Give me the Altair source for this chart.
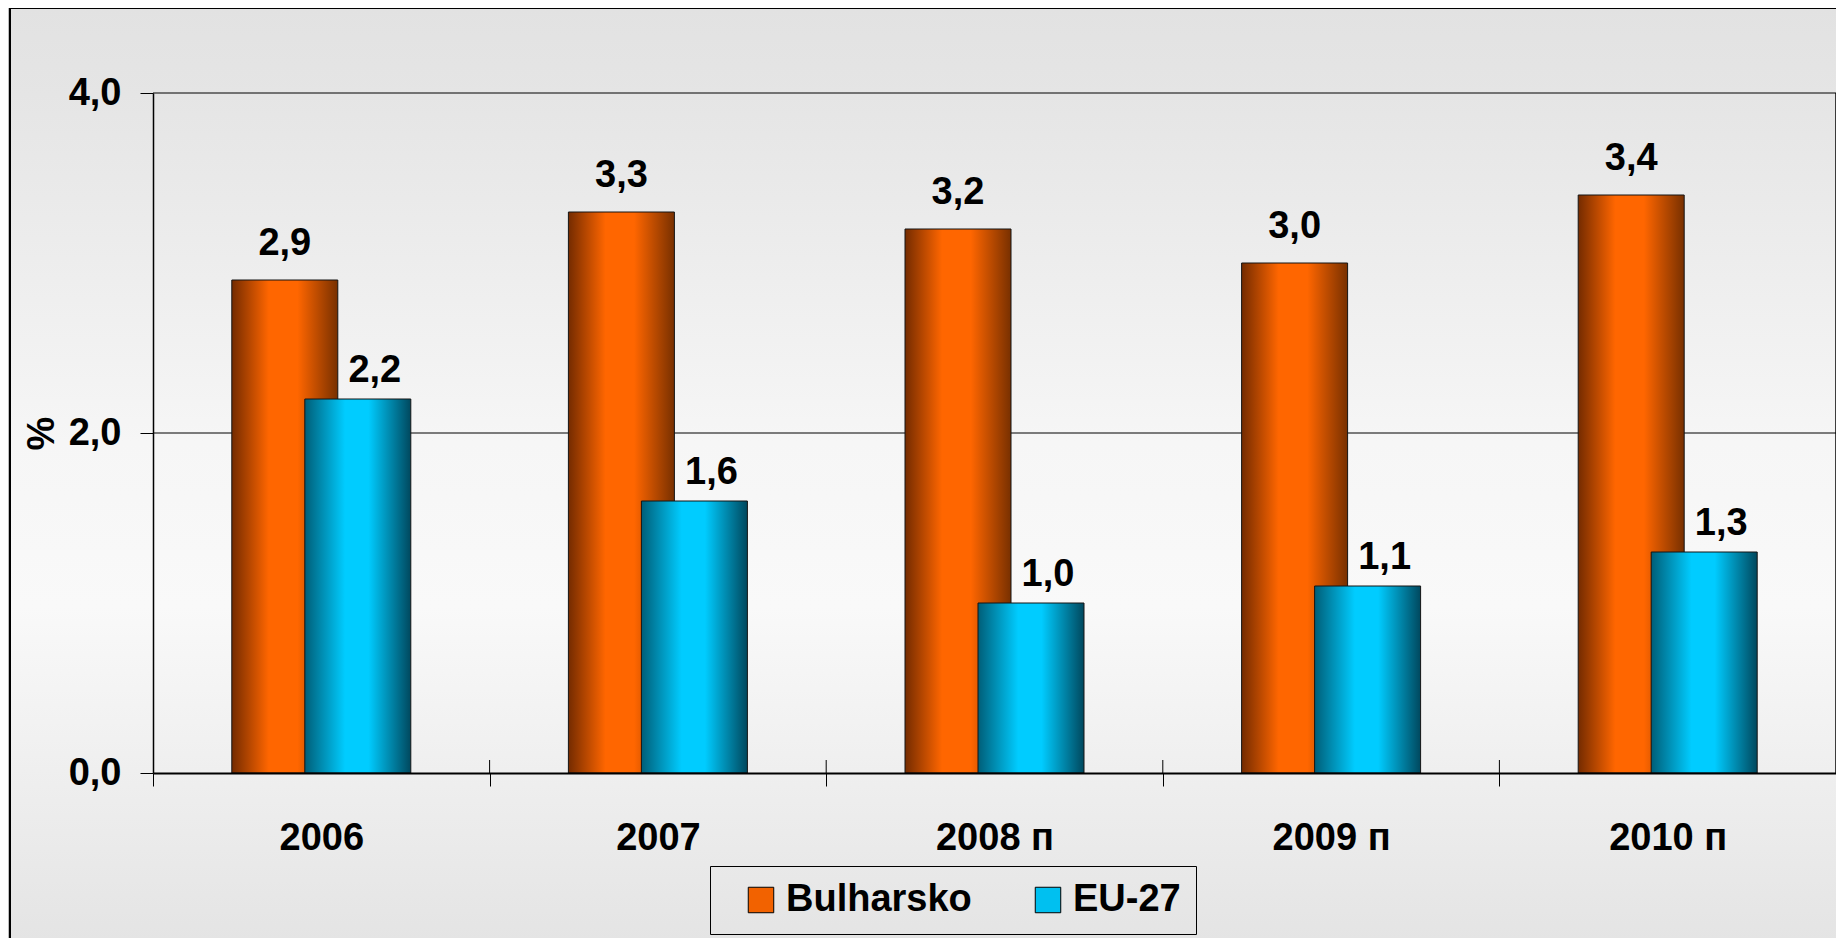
import altair as alt
import pandas as pd

# ---- data ----
categories = ["2006", "2007", "2008 п", "2009 п", "2010 п"]
series_names = ["Bulharsko", "EU-27"]
bulharsko = [2.9, 3.3, 3.2, 3.0, 3.4]
eu27 = [2.2, 1.6, 1.0, 1.1, 1.3]
y_ticks = [0, 2, 4]
grid_values = [2, 4]

rows = []
for c, b, e in zip(categories, bulharsko, eu27):
    rows.append({"year": c, "series": series_names[0], "value": b})
    rows.append({"year": c, "series": series_names[1], "value": e})
df = pd.DataFrame(rows)
df_cats = pd.DataFrame({"year": categories[1:]})

W, H = 1683, 680
FONT = "Liberation Sans"
FS = 38

orange_grad = {"gradient": "linear", "x1": 0, "y1": 0, "x2": 1, "y2": 0,
               "stops": [{"offset": 0, "color": "#742B00"},
                         {"offset": 0.35, "color": "#FF6600"},
                         {"offset": 0.62, "color": "#FF6600"},
                         {"offset": 1, "color": "#783000"}]}
blue_grad = {"gradient": "linear", "x1": 0, "y1": 0, "x2": 1, "y2": 0,
             "stops": [{"offset": 0, "color": "#005E78"},
                       {"offset": 0.38, "color": "#00CCFF"},
                       {"offset": 0.6, "color": "#00CCFF"},
                       {"offset": 1, "color": "#00485E"}]}
bg_grad = {"gradient": "linear", "x1": 0, "y1": 0, "x2": 0, "y2": 1,
           "stops": [{"offset": 0, "color": "#E2E2E2"},
                     {"offset": 0.09, "color": "#E5E5E5"},
                     {"offset": 0.45, "color": "#F6F6F6"},
                     {"offset": 0.62, "color": "#F9F9F9"},
                     {"offset": 0.79, "color": "#EFEFEF"},
                     {"offset": 1, "color": "#E2E2E2"}]}

label_expr = "replace(format(datum.value, '.1f'), '.', ',')"

x_scale = alt.Scale(domain=categories, paddingInner=0, paddingOuter=0)
x_enc = alt.X("year:N", sort=categories, scale=x_scale,
              axis=alt.Axis(title=None, labelAngle=0, tickBand="extent", tickSize=13,
                            tickColor="black", tickWidth=1, domainColor="black",
                            domainWidth=2, labelFont=FONT, labelFontSize=FS,
                            labelFontWeight="bold", labelColor="black",
                            labelPadding=33, labelLimit=400, grid=False, zindex=1))
y_enc = alt.Y("value:Q", scale=alt.Scale(domain=[0, 4], nice=False),
              axis=alt.Axis(values=y_ticks, labelExpr=label_expr, title="%",
                            grid=False, tickSize=13, tickColor="black", tickWidth=1,
                            domainColor="black", domainWidth=1.5,
                            labelFont=FONT, labelFontSize=FS, labelFontWeight="bold",
                            labelColor="black", labelPadding=19,
                            titleFont=FONT, titleFontSize=FS, titleFontWeight="bold",
                            titleColor="black", titlePadding=7, zindex=1))

base = alt.Chart(df).encode(x=x_enc, y=y_enc).transform_calculate(
    label="replace(format(datum.value, '.1f'), '.', ',')")

background = alt.Chart(alt.Data(values=[{}])).mark_rect(
    fill=bg_grad, stroke="black", strokeWidth=2).encode(
    x=alt.value(-143), x2=alt.value(W + 40), y=alt.value(-85), y2=alt.value(H + 200))

grid = alt.Chart(pd.DataFrame({"v": grid_values})).mark_rule(
    color="black", strokeWidth=1).encode(y=alt.Y("v:Q"))

right_border = alt.Chart(alt.Data(values=[{}])).mark_rule(
    color="black", strokeWidth=1.5).encode(
    x=alt.value(W), y=alt.value(0), y2=alt.value(H))

# upper halves of the category separator ticks (they cross the axis line)
up_ticks = alt.Chart(df_cats).mark_rule(
    color="black", strokeWidth=1, xOffset=-W / len(categories) / 2).encode(
    x=alt.X("year:N", sort=categories, scale=x_scale),
    y=alt.value(H - 13), y2=alt.value(H))

bars_bg = base.transform_filter(alt.datum.series == series_names[0]).mark_bar(
    size=106, xOffset=-36.5, fill=orange_grad, stroke="#151515", strokeWidth=1)
bars_eu = base.transform_filter(alt.datum.series == series_names[1]).mark_bar(
    size=106, xOffset=36.5, fill=blue_grad, stroke="#151515", strokeWidth=1)

text_bg = base.transform_filter(alt.datum.series == series_names[0]).mark_text(
    dy=-25, xOffset=-36.5, baseline="alphabetic", font=FONT, fontSize=FS,
    fontWeight="bold", color="black").encode(text="label:N")
text_eu = base.transform_filter(alt.datum.series == series_names[1]).mark_text(
    dy=-17, xOffset=53.5, baseline="alphabetic", font=FONT, fontSize=FS,
    fontWeight="bold", color="black").encode(text="label:N")

legend_layer = alt.Chart(df).mark_square(opacity=0, size=0).encode(
    color=alt.Color("series:N",
                    scale=alt.Scale(domain=series_names, range=["#F26200", "#00C0F0"]),
                    legend=alt.Legend(title=None, orient="none", legendX=557, legendY=773,
                                      direction="horizontal", symbolType="square",
                                      symbolSize=650, symbolOpacity=1,
                                      symbolStrokeColor="black", symbolStrokeWidth=1,
                                      symbolOffset=17,
                                      labelFont=FONT, labelFontSize=FS,
                                      labelFontWeight="bold", labelColor="black",
                                      labelLimit=400, labelOffset=6, columnPadding=40,
                                      padding=15, strokeColor="black",
                                      fillColor="transparent", zindex=2)))

chart = alt.layer(background, grid, right_border, bars_bg, bars_eu, up_ticks,
                  text_bg, text_eu, legend_layer).properties(
    width=W, height=H,
    padding={"left": 145, "top": 85, "right": 0, "bottom": 165},
    autosize=alt.AutoSizeParams(type="none"),
    background="#BDBDBD",
).configure_view(stroke=None)

chart.save("out.html", embed_options={"renderer": "svg", "actions": False})
